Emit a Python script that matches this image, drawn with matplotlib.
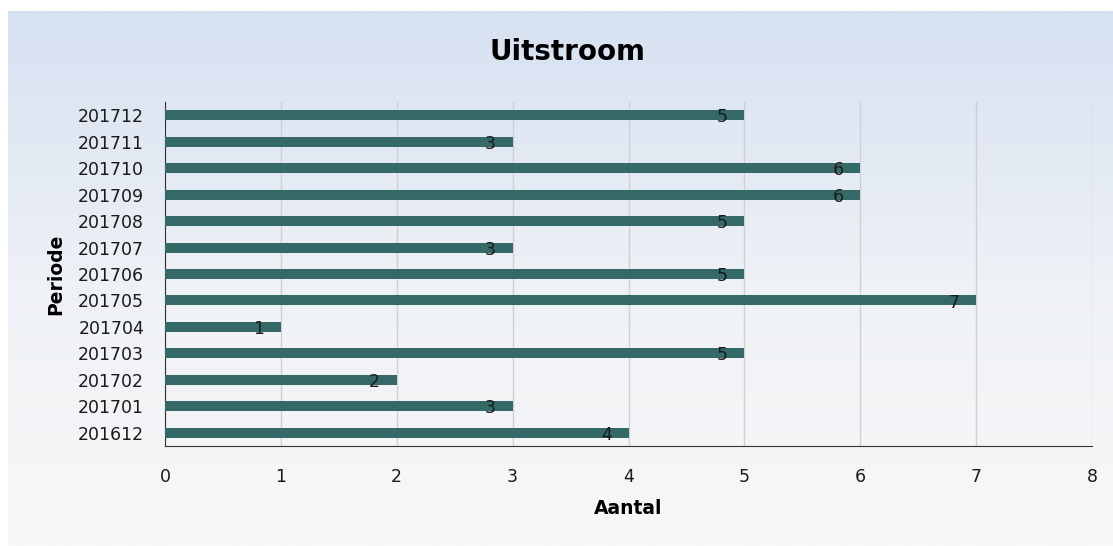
import matplotlib
matplotlib.use('Agg')
import matplotlib.pyplot as plt
import numpy as np
from matplotlib.colors import LinearSegmentedColormap

# data
perioden = ['201612', '201701', '201702', '201703', '201704', '201705', '201706',
            '201707', '201708', '201709', '201710', '201711', '201712']
aantal = [4, 3, 2, 5, 1, 7, 5, 3, 5, 6, 6, 3, 5]

fig = plt.figure(figsize=(11.13, 5.46), dpi=100)

# background panel with vertical gradient
bg = fig.add_axes([8 / 1113, 0, 1 - 8 / 1113, 1 - 11 / 546])
bg.axis('off')
cmap = LinearSegmentedColormap.from_list('bg', ['#f8f8f8', '#eef1f6', '#d6e1f1'])
grad = np.linspace(0, 1, 256).reshape(-1, 1)
bg.imshow(grad, aspect='auto', cmap=cmap, origin='lower', extent=[0, 1, 0, 1])

ax = fig.add_axes([165 / 1113, 1 - 446 / 546, (1092 - 165) / 1113, (446 - 102) / 546])
ax.set_facecolor('none')

y = np.arange(len(perioden))
ax.barh(y, aantal, height=0.38, color='#346968', zorder=3)

for yi, v in zip(y, aantal):
    ax.annotate(str(v), xy=(v, yi), xytext=(-16, -1.5), textcoords='offset points',
                ha='center', va='center', fontsize=12.5, color='#1a1a1a', zorder=4)

ax.set_xlim(0, 8)
ax.set_ylim(-0.5, len(perioden) - 0.5)
ax.set_yticks(y)
ax.set_yticklabels(perioden)
ax.set_xticks(range(0, 9))
ax.tick_params(axis='both', length=0, labelsize=12.5, colors='#1a1a1a')
ax.tick_params(axis='x', pad=16)
ax.tick_params(axis='y', pad=15)

ax.grid(axis='x', color='#d0d0d0', linewidth=1, zorder=0)
ax.spines['top'].set_visible(False)
ax.spines['right'].set_visible(False)
ax.spines['left'].set_color('#333333')
ax.spines['bottom'].set_color('#333333')

ax.set_xlabel('Aantal', fontsize=13.5, fontweight='bold', labelpad=9)
ax.set_ylabel('Periode', fontsize=13.5, fontweight='bold', labelpad=9)
fig.text(568 / 1113, 1 - 52 / 546, 'Uitstroom', ha='center', va='center',
         fontsize=20, fontweight='bold')

fig.savefig('out.png', dpi=100)
